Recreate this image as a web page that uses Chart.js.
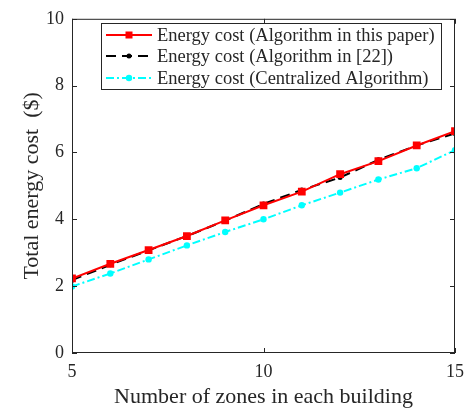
<!DOCTYPE html>
<html>
<head>
<meta charset="utf-8">
<script src="https://cdn.jsdelivr.net/npm/chart.js"></script>
<style>
html,body{margin:0;padding:0;background:#fff}
#box{width:473px;height:414px}
</style>
</head>
<body>
<div id="box"><canvas id="grafico"></canvas></div>
<script>

const zones=[5,6,7,8,9,10,11,12,13,14,15]
const costPaper=[2.23,2.67,3.08,3.50,3.97,4.42,4.83,5.35,5.74,6.21,6.64]
const costRef22=[2.18,2.64,3.07,3.50,3.96,4.46,4.88,5.25,5.78,6.21,6.57]
const costCentral=[1.99,2.38,2.80,3.22,3.62,4.00,4.42,4.80,5.19,5.53,6.07]

const xTicks=[5,10,15]
const yTicks=[0,2,4,6,8,10]

const legendLabels=[
"Energy cost (Algorithm in this paper)",
"Energy cost (Algorithm in [22])",
"Energy cost (Centralized Algorithm)"
]

const fonte="'Liberation Serif', serif"
const cinza="#262626"

function pares(ys){
return zones.map((x,i)=>({x:x,y:ys[i]}))
}

// moldura com ticks para dentro, como no matlab
const moldura={
id:"moldura",
afterDatasetsDraw(chart){
const ctx=chart.ctx
const a=chart.chartArea
const sx=chart.scales.x
const sy=chart.scales.y
ctx.save()
ctx.strokeStyle=cinza
ctx.lineWidth=1
ctx.strokeRect(a.left+0.5,a.top+0.5,a.right-a.left-1,a.bottom-a.top-1)
ctx.beginPath()
yTicks.forEach(v=>{
let y=Math.round(sy.getPixelForValue(v))+0.5
ctx.moveTo(a.left,y);ctx.lineTo(a.left+5,y)
ctx.moveTo(a.right,y);ctx.lineTo(a.right-5,y)
})
xTicks.forEach(v=>{
let x=Math.round(sx.getPixelForValue(v))+0.5
ctx.moveTo(x,a.bottom);ctx.lineTo(x,a.bottom-5)
ctx.moveTo(x,a.top);ctx.lineTo(x,a.top+5)
})
ctx.stroke()
ctx.restore()
}
}

function marcador(ctx,tipo,x,y){
if(tipo==="quad"){
ctx.fillStyle="#ff0000"
ctx.fillRect(x-3.5,y-3.5,7,7)
}else if(tipo==="ponto"){
ctx.fillStyle="#000"
ctx.beginPath();ctx.arc(x,y,2.5,0,Math.PI*2);ctx.fill()
}else{
ctx.fillStyle="#00ffff"
ctx.beginPath();ctx.arc(x,y,3.2,0,Math.PI*2);ctx.fill()
}
}

const legenda={
id:"legenda",
afterDraw(chart){
const ctx=chart.ctx
ctx.save()
ctx.fillStyle="#fff"
ctx.fillRect(101,23,341,67)
ctx.strokeStyle=cinza
ctx.lineWidth=1
ctx.strokeRect(101.5,23.5,340,66)
const estilos=[
{cor:"#ff0000",dash:[],tipo:"quad"},
{cor:"#000000",dash:[10,6],tipo:"ponto"},
{cor:"#00ffff",dash:[8,3,2,3],tipo:"circ"}
]
const linhas=[35,56,78]
estilos.forEach((e,i)=>{
let y=linhas[i]
ctx.strokeStyle=e.cor
ctx.lineWidth=2
ctx.setLineDash(e.dash)
ctx.beginPath();ctx.moveTo(106,y);ctx.lineTo(152,y);ctx.stroke()
ctx.setLineDash([])
marcador(ctx,e.tipo,129,y)
ctx.fillStyle=cinza
ctx.font="18.5px "+fonte
ctx.textBaseline="middle"
ctx.fillText(legendLabels[i],157,y+1)
})
ctx.restore()
}
}

new Chart(document.getElementById("grafico"),{

type:"line",

data:{
datasets:[{
label:legendLabels[0],
data:pares(costPaper),
borderColor:"#ff0000",
backgroundColor:"#ff0000",
borderWidth:2,
pointStyle:"rect",
pointRadius:5.5,
pointBorderWidth:0
},{
label:legendLabels[1],
data:pares(costRef22),
borderColor:"#000000",
backgroundColor:"#000000",
borderWidth:2,
borderDash:[10,6],
pointRadius:2.5,
pointBorderWidth:0
},{
label:legendLabels[2],
data:pares(costCentral),
borderColor:"#00ffff",
backgroundColor:"#00ffff",
borderWidth:2,
borderDash:[8,3,2,3],
pointRadius:3.2,
pointBorderWidth:0
}]
},

options:{
responsive:true,
maintainAspectRatio:false,
animation:false,
layout:{padding:{top:11,right:18,left:0,bottom:0}},
plugins:{
legend:{display:false},
tooltip:{enabled:false}
},
scales:{
x:{
type:"linear",
min:5,
max:15,
afterBuildTicks(s){s.ticks=xTicks.map(v=>({value:v}))},
afterFit(s){s.height=61},
grid:{display:false,drawTicks:false},
border:{display:false},
ticks:{color:cinza,padding:8,font:{family:fonte,size:18}},
title:{display:true,text:"Number of zones in each building",color:cinza,font:{family:fonte,size:22},padding:{top:0}}
},
y:{
min:0,
max:10,
afterBuildTicks(s){s.ticks=yTicks.map(v=>({value:v}))},
afterFit(s){s.width=72},
grid:{display:false,drawTicks:false},
border:{display:false},
ticks:{color:cinza,padding:8,font:{family:fonte,size:18}},
title:{display:true,text:"Total energy cost  ($)",color:cinza,font:{family:fonte,size:22},padding:{top:19,bottom:0}}
}
}
},

plugins:[moldura,legenda]

})

</script>
</body>
</html>
